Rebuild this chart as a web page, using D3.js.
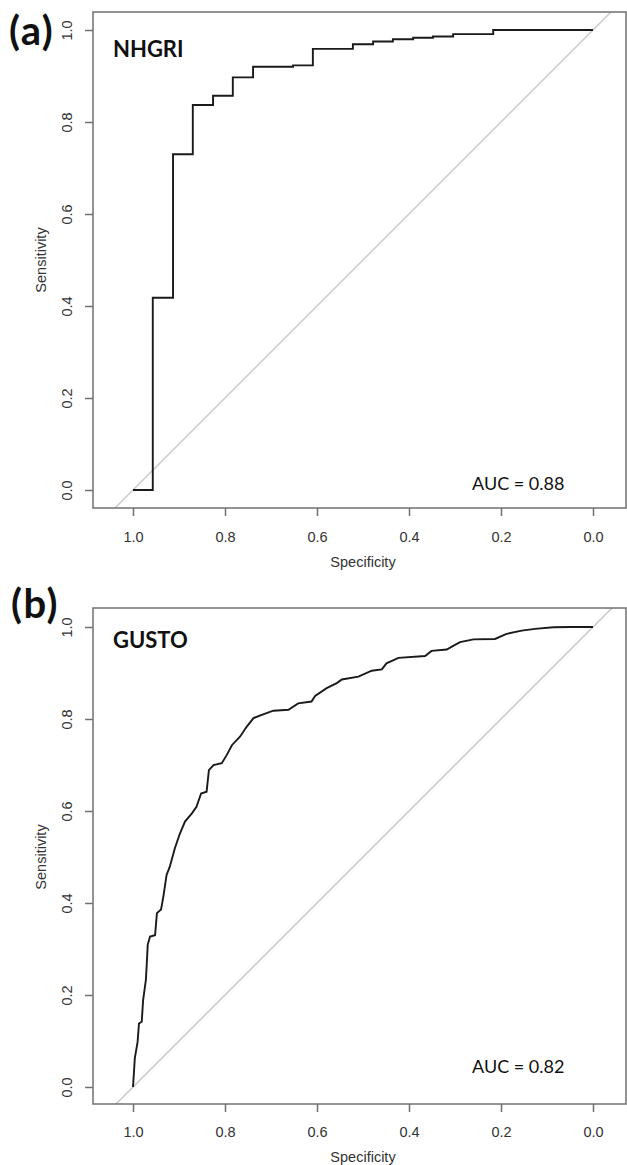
<!DOCTYPE html>
<html><head><meta charset="utf-8">
<script src="https://cdn.jsdelivr.net/npm/d3@7"></script>
<style>body{margin:0;background:#fff}</style></head>
<body>
<svg id="chart" width="627" height="1165"></svg>
<script>
// ---- data ----
const xTicks = [1.0, 0.8, 0.6, 0.4, 0.2, 0.0];
const yTicks = [0.0, 0.2, 0.4, 0.6, 0.8, 1.0];
const panelLetters = ["(a)", "(b)"];
const panelNames = ["NHGRI", "GUSTO"];
const aucLabels = ["AUC = 0.88", "AUC = 0.82"];
const xTitle = "Specificity";
const yTitle = "Sensitivity";

// NHGRI ROC step vertices (specificity, sensitivity)
const nhgriSpec = [1.0, 0.957, 0.913, 0.870, 0.826, 0.783, 0.739, 0.652, 0.609, 0.522, 0.478, 0.435, 0.391, 0.348, 0.304, 0.217, 0.0];
const nhgriSens = [0.0, 0.418, 0.730, 0.837, 0.857, 0.897, 0.920, 0.923, 0.959, 0.969, 0.975, 0.980, 0.983, 0.986, 0.991, 1.0, 1.0];

// GUSTO ROC vertices (specificity, sensitivity)
const gustoSpec = [1.0, 0.996, 0.990, 0.987, 0.981, 0.978, 0.972, 0.970, 0.968, 0.963, 0.952, 0.948, 0.939, 0.934, 0.927, 0.920, 0.909, 0.898, 0.887, 0.872, 0.862, 0.852, 0.840, 0.835, 0.825, 0.807, 0.796, 0.785, 0.767, 0.753, 0.738, 0.720, 0.695, 0.662, 0.641, 0.612, 0.604, 0.579, 0.557, 0.546, 0.510, 0.481, 0.459, 0.449, 0.423, 0.365, 0.351, 0.318, 0.304, 0.289, 0.260, 0.213, 0.188, 0.155, 0.126, 0.086, 0.05, 0.0];
const gustoSens = [0.0, 0.063, 0.098, 0.138, 0.142, 0.189, 0.233, 0.269, 0.309, 0.327, 0.330, 0.378, 0.386, 0.414, 0.461, 0.479, 0.519, 0.551, 0.577, 0.595, 0.609, 0.638, 0.642, 0.689, 0.700, 0.704, 0.722, 0.743, 0.762, 0.783, 0.802, 0.809, 0.818, 0.820, 0.834, 0.838, 0.850, 0.867, 0.878, 0.886, 0.892, 0.905, 0.908, 0.921, 0.933, 0.937, 0.948, 0.951, 0.959, 0.967, 0.973, 0.974, 0.985, 0.992, 0.996, 0.9995, 1.0, 1.0];

const series = [
  {spec: nhgriSpec, sens: nhgriSens, curve: d3.curveStepAfter},
  {spec: gustoSpec, sens: gustoSens, curve: d3.curveLinear}
];

// ---- layout ----
const layout = [
  {y1: 30, y0: 490, boxTop: 12, boxBot: 508, letterY: 45, letterX: 9, nameY: 57, aucY: 490, tickLabY: 542, xTitleY: 567, yTitleY: 260},
  {y1: 627, y0: 1087, boxTop: 608, boxBot: 1104, letterY: 618, letterX: 11, nameY: 648, aucY: 1073, tickLabY: 1137, xTitleY: 1162, yTitleY: 857}
];
const X1 = 133, X0 = 593, boxLeft = 93, boxRight = 626;
const axisColor = "#707070", textColor = "#333";

const svg = d3.select("#chart");

layout.forEach((L, i) => {
  const x = d3.scaleLinear().domain([1, 0]).range([X1, X0]);
  const y = d3.scaleLinear().domain([0, 1]).range([L.y0, L.y1]);
  const g = svg.append("g");

  const clipId = "clip" + i;
  g.append("clipPath").attr("id", clipId).append("rect")
    .attr("x", boxLeft).attr("y", L.boxTop)
    .attr("width", boxRight - boxLeft).attr("height", L.boxBot - L.boxTop);

  // diagonal reference line
  const sx0 = x.invert(boxLeft), sx1 = x.invert(boxRight);
  g.append("line")
    .attr("clip-path", `url(#${clipId})`)
    .attr("x1", x(sx0)).attr("y1", y(1 - sx0))
    .attr("x2", x(sx1)).attr("y2", y(1 - sx1))
    .attr("stroke", "#c8c8c8").attr("stroke-width", 1.4);

  // ROC curve
  const s = series[i];
  const pts = s.spec.map((v, k) => [v, s.sens[k]]);
  g.append("path")
    .datum(pts)
    .attr("d", d3.line().x(d => x(d[0])).y(d => y(d[1])).curve(s.curve))
    .attr("fill", "none").attr("stroke", "#1a1a1a").attr("stroke-width", 1.9)
    .attr("stroke-linejoin", "miter");

  // box
  g.append("rect")
    .attr("x", boxLeft).attr("y", L.boxTop)
    .attr("width", boxRight - boxLeft).attr("height", L.boxBot - L.boxTop)
    .attr("fill", "none").attr("stroke", axisColor).attr("stroke-width", 1.5);

  // x axis ticks
  const xa = g.append("g").attr("transform", `translate(0,${L.boxBot})`)
    .call(d3.axisBottom(x).tickValues(xTicks).tickFormat(d3.format(".1f")).tickSize(8).tickPadding(0));
  xa.select(".domain").remove();
  xa.selectAll(".tick line").attr("stroke", axisColor).attr("stroke-width", 1.5);
  xa.selectAll(".tick text").attr("y", L.tickLabY - L.boxBot).attr("dy", null)
    .attr("fill", textColor).style("font-family", "'Liberation Sans', Arial, sans-serif").style("font-size", "14.5px");

  // y axis ticks
  const ya = g.append("g").attr("transform", `translate(${boxLeft},0)`)
    .call(d3.axisLeft(y).tickValues(yTicks).tickFormat(d3.format(".1f")).tickSize(8));
  ya.select(".domain").remove();
  ya.selectAll(".tick line").attr("stroke", axisColor).attr("stroke-width", 1.5);
  ya.selectAll(".tick text")
    .attr("x", null).attr("dy", null)
    .attr("transform", `translate(${72 - boxLeft},0) rotate(-90)`)
    .attr("text-anchor", "middle")
    .attr("fill", textColor).style("font-family", "'Liberation Sans', Arial, sans-serif").style("font-size", "14.5px");

  // axis titles
  g.append("text").attr("x", (X1 + X0) / 2).attr("y", L.xTitleY)
    .attr("text-anchor", "middle").attr("fill", textColor)
    .style("font-family", "'Liberation Sans', Arial, sans-serif").style("font-size", "14.5px")
    .text(xTitle);
  g.append("text").attr("transform", `translate(46,${L.yTitleY}) rotate(-90)`)
    .attr("text-anchor", "middle").attr("fill", textColor)
    .style("font-family", "'Liberation Sans', Arial, sans-serif").style("font-size", "14.5px")
    .text(yTitle);

  // panel letter, name, AUC
  g.append("text").attr("x", L.letterX).attr("y", L.letterY)
    .style("font-family", "Lato, sans-serif").style("font-weight", "bold").style("font-size", "40px")
    .style("letter-spacing", "1.5px")
    .attr("fill", "#111").text(panelLetters[i]);
  g.append("text").attr("x", 113).attr("y", L.nameY)
    .style("font-family", "Lato, sans-serif").style("font-weight", "bold").style("font-size", "22px")
    .attr("fill", "#111").text(panelNames[i]);
  g.append("text").attr("x", 472).attr("y", L.aucY)
    .style("font-family", "Lato, sans-serif").style("font-size", "18px")
    .attr("fill", "#111").text(aucLabels[i]);
});
</script>
</body></html>
